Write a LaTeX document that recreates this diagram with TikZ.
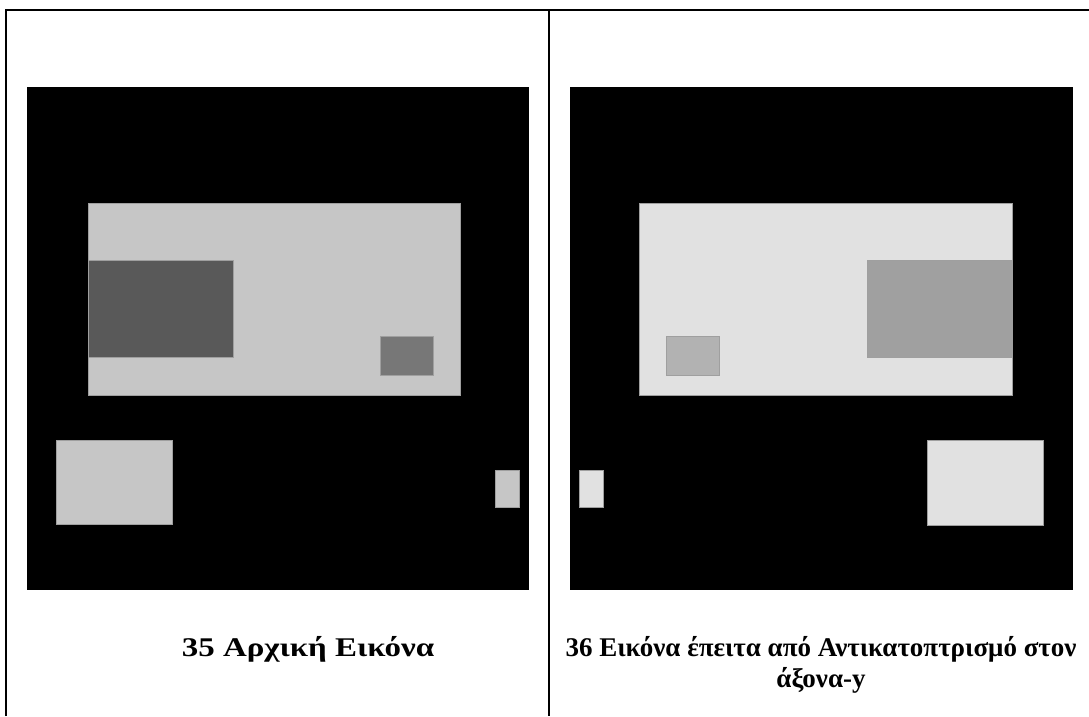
\documentclass[tikz,border=0pt]{standalone}
\usepackage{fontspec}
\setmainfont{Liberation Serif}
\usepackage{tikz}
\usetikzlibrary{positioning}
\definecolor{origlight}{HTML}{C6C6C6}
\definecolor{origdark}{HTML}{595959}
\definecolor{origmid}{HTML}{777777}
\definecolor{mirlight}{HTML}{E1E1E1}
\definecolor{mirdark}{HTML}{A0A0A0}
\definecolor{mirmid}{HTML}{B2B2B2}
\tikzset{
  rule/.style={line width=2pt, black},
  photo/.style={fill=black},
  patch/.style={draw=gray!75, line width=0.7pt},
  caption/.style={font=\bfseries\fontsize{27}{31}\selectfont,
                  align=center, inner sep=0pt, anchor=base},
}
\begin{document}
\begin{tikzpicture}[x=1pt, y=-1pt]
  \useasboundingbox (0,0) rectangle (1089,716);
  \fill[white] (0,0) rectangle (1089,716);
  % table rules
  \draw[rule] (6,716) -- (6,10) -- (1089,10);
  \draw[rule] (549,10) -- (549,716);
  % original picture
  \fill[photo] (27,87) rectangle (529,590);
  \filldraw[patch, fill=origlight] (88,203) rectangle (460,395);
  \filldraw[patch, fill=origdark] (88,260) rectangle (233,357);
  \filldraw[patch, fill=origmid] (380,336) rectangle (433,375);
  \filldraw[patch, fill=origlight] (56,440) rectangle (172,524);
  \filldraw[patch, fill=origlight] (495,470) rectangle (519,507);
  % mirrored picture
  \fill[photo] (570,87) rectangle (1073,590);
  \filldraw[patch, fill=mirlight] (639,203) rectangle (1012,395);
  \filldraw[patch, fill=mirdark] (867,260) rectangle (1012,357);
  \filldraw[patch, fill=mirmid] (666,336) rectangle (719,375);
  \filldraw[patch, fill=mirlight] (927,440) rectangle (1043,525);
  \filldraw[patch, fill=mirlight] (579,470) rectangle (603,507);
  % captions
  \node[caption] (capA) at (308,656) {\scalebox{1.22}[1]{35 Αρχική Εικόνα}};
  \node[caption] (capB) at (821,687) {36 Εικόνα έπειτα από Αντικατοπτρισμό στον\\άξονα-y};
\end{tikzpicture}
\end{document}
